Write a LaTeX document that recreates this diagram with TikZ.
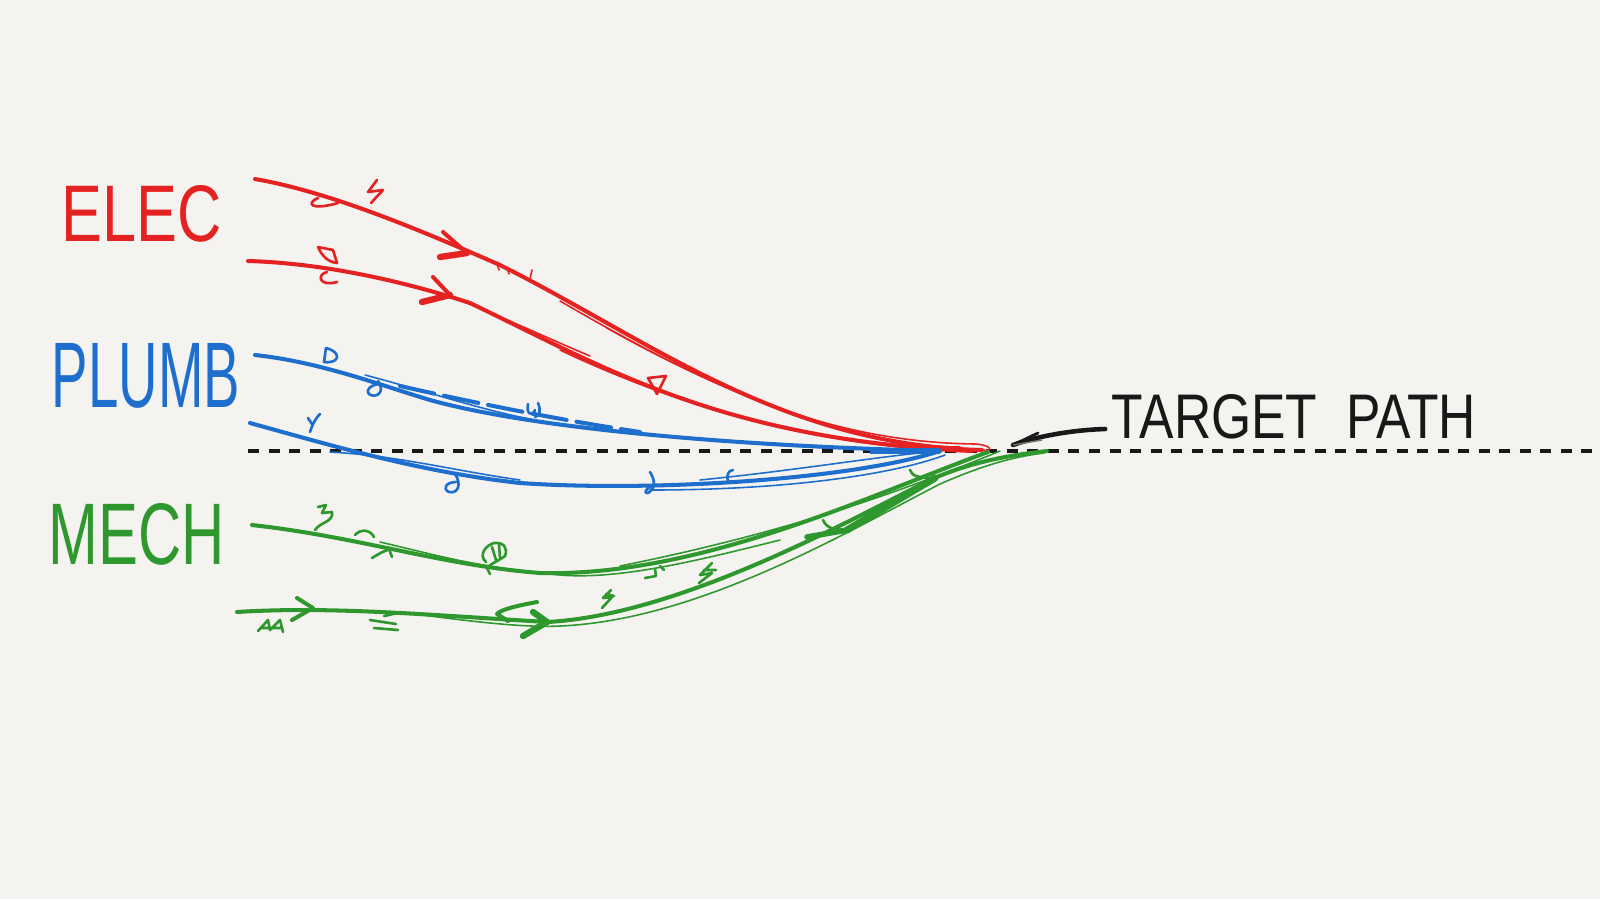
\documentclass[tikz,border=0pt]{standalone}
\usepackage{fontspec}
\setmainfont{Liberation Sans}
\usetikzlibrary{calc}
\definecolor{paper}{RGB}{244,243,240}
\definecolor{ered}{RGB}{228,34,34}
\definecolor{pblue}{RGB}{30,110,205}
\definecolor{mgreen}{RGB}{46,152,46}
\definecolor{ink}{RGB}{24,24,24}
\tikzset{
  pen/.style={line width=1.15pt, line cap=round, line join=round},
  hair/.style={line width=0.45pt, line cap=round, line join=round},
  doodle/.style={line width=0.75pt, line cap=round, line join=round},
  lbl/.style={inner sep=0pt, anchor=center},
  guide/.style={ink, line width=1.15pt, dash pattern=on 0.11cm off 0.095cm},
}
\begin{document}
\begin{tikzpicture}[x=0.01cm, y=-0.01cm]
\fill[paper] (0,0) rectangle (1600,899);
\useasboundingbox (0,0) rectangle (1600,899);

% labels
\node[lbl, text=ered] (elec) at (142,214) {\resizebox{1.60cm}{0.56cm}{ELEC}};
\node[lbl, text=pblue] (plumb) at (146,376) {\resizebox{1.88cm}{0.64cm}{PLUMB}};
\node[lbl, text=mgreen] (mech) at (137,534) {\resizebox{1.76cm}{0.61cm}{MECH}};
\node[lbl, text=ink] (tp) at (1294,417) {\resizebox{3.64cm}{0.44cm}{TARGET\ \ PATH}};

% named points
\coordinate (dl) at (248,451);
\coordinate (dr) at (1600,451);
\coordinate (r1s) at (255,179);
\coordinate (r2s) at (248,261);
\coordinate (b1s) at (255,355);
\coordinate (b2s) at (250,423);
\coordinate (g1s) at (252,525);
\coordinate (g2s) at (237,612);
\coordinate (cr1) at (982,450);
\coordinate (cr2) at (972,451);
\coordinate (cb) at (940,451);
\coordinate (cg1) at (988,452);
\coordinate (cg2) at (1047,451);
\coordinate (le) at (1013,445);

% target dashed line
\draw[guide] (dl) -- (dr);

% leader from the label
\draw[ink, line width=1.3pt, line cap=round] ($(tp.west)+(-6,12)$) .. controls (1070,430) and (1035,437) .. (le);
\draw[ink, line width=0.8pt, line cap=round] (le) -- (1038,433);
\draw[ink!60, line width=0.4pt] (le) -- (1042,440);

% ---------- red (ELEC) ----------
\draw[ered, pen] (r1s) .. controls (330,192) and (420,230) .. (500,265)
  .. controls (650,340) and (780,445) .. (cr1);
\draw[ered, hair] (560,301) .. controls (700,382) and (820,442) .. (975,444)
  .. controls (992,445) and (994,452) .. (cr1);
\draw[ered, hair] (607,328) .. controls (720,392) and (860,447) .. (960,447);
\draw[ered, pen] (r2s) .. controls (320,263) and (400,280) .. (470,303)
  .. controls (600,365) and (720,440) .. (cr2);
\draw[ered, hair] (560,350) .. controls (690,412) and (840,450) .. (cr2);
\draw[ered, hair] (452,297) .. controls (505,318) and (545,337) .. (590,356);
% red arrowheads
\draw[ered, pen] (443,232) -- (467,253);
\draw[ered, line width=1.8pt, line cap=round] (440,257) -- (467,253);
\draw[ered, pen] (433,277) -- (450,295);
\draw[ered, line width=1.8pt, line cap=round] (422,302) -- (450,295);
% red doodles
\draw[ered, doodle] (377,180) -- (368,192) -- (383,190) -- (371,203);
\draw[ered, doodle] (318,198) .. controls (306,203) and (310,211) .. (338,203);
\draw[ered, doodle] (318,247) -- (333,250) -- (337,263) .. controls (328,262) and (322,256) .. (318,247);
\draw[ered, doodle] (327,272) .. controls (317,274) and (318,287) .. (337,282);
\draw[ered, doodle] (648,378) -- (666,376) -- (657,394) -- cycle;
\draw[ered, hair] (497,264) -- (499,270) (507,268) -- (509,274) (532,270) -- (530,279);

% ---------- blue (PLUMB) ----------
\draw[pblue, pen] (b1s) .. controls (320,362) and (380,385) .. (430,400)
  .. controls (520,425) and (700,445) .. (cb);
\draw[pblue, pen, dash pattern=on 0.35cm off 0.1cm] (400,386) .. controls (480,404) and (560,420) .. (640,432);
\draw[pblue, hair] (365,375) .. controls (430,392) and (480,410) .. (540,421);
\draw[pblue, pen] (b2s) .. controls (330,445) and (420,472) .. (520,483)
  .. controls (650,492) and (850,480) .. (cb);
\draw[pblue, hair] (330,452) .. controls (400,456) and (450,470) .. (520,480);
\draw[pblue, hair] (700,480) .. controls (800,470) and (880,456) .. (cb);
\draw[pblue, hair] (650,490) .. controls (800,490) and (900,472) .. (945,455);
\draw[pblue, line width=1.6pt] (870,451) -- (cb);
% blue doodles
\draw[pblue, doodle] (326,348) -- (324,362) .. controls (340,364) and (342,352) .. (326,348);
\draw[pblue, doodle] (378,381) .. controls (386,392) and (376,399) .. (369,394) .. controls (365,389) and (372,385) .. (378,384);
\draw[pblue, doodle] (528,404) .. controls (526,414) and (532,417) .. (535,410) (538,403) .. controls (541,410) and (540,416) .. (535,417);
\draw[pblue, doodle] (320,414) .. controls (314,420) and (312,426) .. (310,432) (308,418) -- (312,424);
\draw[pblue, doodle] (455,474) .. controls (462,484) and (458,494) .. (449,492) .. controls (442,489) and (446,482) .. (456,482);
\draw[pblue, doodle] (650,472) .. controls (655,480) and (656,488) .. (648,493) .. controls (643,494) and (646,488) .. (652,486);
\draw[pblue, doodle] (733,470) .. controls (728,470) and (726,477) .. (728,481);

% ---------- green (MECH) ----------
\draw[mgreen, pen] (g1s) .. controls (360,537) and (440,565) .. (540,573)
  .. controls (700,577) and (870,495) .. (cg1);
\draw[mgreen, hair] (380,542) .. controls (440,556) and (480,568) .. (560,575) .. controls (620,580) and (700,560) .. (780,540);
\draw[mgreen, hair] (620,566) .. controls (750,540) and (870,505) .. (1000,451);
\draw[mgreen, pen] (g2s) .. controls (330,606) and (430,615) .. (547,622)
  .. controls (680,615) and (850,520) .. (930,480)
  .. controls (970,462) and (1010,455) .. (cg2);
\draw[mgreen, hair] (400,612) .. controls (460,620) and (520,628) .. (560,626) .. controls (700,620) and (850,530) .. (940,484) .. controls (990,462) and (1020,456) .. (1044,453);
\draw[mgreen, line width=2pt, line cap=round] (847,530) -- (935,478);
% green arrowheads
\draw[mgreen, pen] (297,598) -- (313,608) -- (292,620);
\draw[mgreen, line width=1.8pt, line cap=round] (533,612) -- (547,622) -- (523,636);
\draw[mgreen, pen] (537,602) .. controls (515,606) and (500,610) .. (497,614) -- (508,621);
\draw[mgreen, doodle] (823,520) .. controls (826,527) and (832,530) .. (847,530);
\draw[mgreen, line width=1.6pt, line cap=round] (807,537) -- (847,530);
\draw[mgreen, doodle] (910,470) .. controls (912,476) and (918,478) .. (935,478);
% green doodles
\draw[mgreen, doodle] (318,507) -- (326,505) -- (322,513) -- (332,512) .. controls (334,522) and (320,522) .. (315,530);
\draw[mgreen, doodle] (355,535) .. controls (360,529) and (370,529) .. (374,537);
\draw[mgreen, doodle] (372,558) .. controls (380,553) and (386,550) .. (391,549) (389,549) -- (392,557);
\draw[mgreen, doodle] (486,562) .. controls (478,555) and (486,545) .. (494,543) .. controls (504,542) and (508,548) .. (505,556) .. controls (500,560) and (494,562) .. (489,566) (492,547) -- (496,560) (499,545) -- (500,558) (486,566) -- (490,574);
\draw[mgreen, doodle] (258,631) -- (268,620) -- (270,630) -- (280,620) -- (283,632) (262,628) -- (282,628);
\draw[mgreen, doodle] (370,620) -- (396,624) (374,628) -- (398,630) (384,616) -- (402,612);
\draw[mgreen, doodle] (611,590) -- (603,598) -- (612,597) -- (602,608) (606,594) -- (614,596);
\draw[mgreen, doodle] (645,578) -- (656,576) -- (655,569) (660,566) -- (664,570);
\draw[mgreen, doodle] (712,563) -- (700,575) -- (712,573) -- (699,583) (704,570) -- (716,570);
\end{tikzpicture}
\end{document}
